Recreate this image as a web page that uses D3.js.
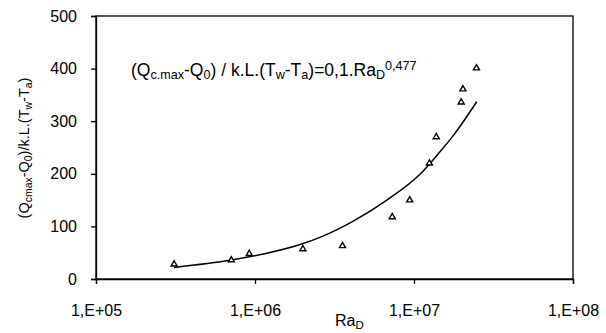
<!DOCTYPE html>
<html>
<head>
<meta charset="utf-8">
<script src="https://cdn.jsdelivr.net/npm/d3@7"></script>
<style>
  body { margin: 0; background: #fff; }
  svg { font-family: "Liberation Sans", Arial, sans-serif; }
</style>
</head>
<body>
<svg id="chart" width="606" height="333"></svg>
<script>
// measured points
const raValues = [3.1e5, 7.1e5, 9.2e5, 2.0e6, 3.55e6, 7.3e6, 9.4e6, 1.25e7, 1.38e7, 1.98e7, 2.03e7, 2.47e7];
const qValues = [28, 36, 48, 57, 63, 118, 150, 220, 270, 336, 361, 401];

// fitted curve
const curveRa = [3.1e5, 7.1e5, 1.15e6, 1.9e6, 2.7e6, 4.15e6, 6.75e6, 1.09e7, 1.43e7, 1.77e7, 2.48e7];
const curveQ = [22, 36, 48, 65, 82, 110, 150, 199, 239, 273, 337];

const xTicks = [1e5, 1e6, 1e7, 1e8];
const xTickLabels = ['1,E+05', '1,E+06', '1,E+07', '1,E+08'];
const yTicks = [0, 100, 200, 300, 400, 500];

const svg = d3.select('#chart');
const m = { left: 96, right: 573, top: 16, bottom: 279 };
const fs = 16;

const x = d3.scaleLog().domain([1e5, 1e8]).range([m.left, m.right]);
const y = d3.scaleLinear().domain([0, 500]).range([m.bottom, m.top]);

// frame
svg.append('rect')
  .attr('x', m.left).attr('y', m.top)
  .attr('width', m.right - m.left).attr('height', m.bottom - m.top)
  .attr('fill', 'none').attr('stroke', '#000').attr('stroke-width', 1.3);

const xAxis = svg.append('g')
  .attr('transform', `translate(0,${m.bottom})`)
  .call(d3.axisBottom(x).tickValues(xTicks).tickFormat((d, i) => xTickLabels[i]).tickSize(5).tickPadding(21));
xAxis.select('.domain').attr('stroke-width', 1.3);
xAxis.selectAll('line').attr('stroke-width', 1.3);
xAxis.selectAll('text').attr('font-size', fs).attr('font-family', '"Liberation Sans", Arial, sans-serif').attr('fill', '#000');

const yAxis = svg.append('g')
  .attr('transform', `translate(${m.left},0)`)
  .call(d3.axisLeft(y).tickValues(yTicks).tickSize(5).tickPadding(14));
yAxis.select('.domain').attr('stroke-width', 1.3);
yAxis.selectAll('line').attr('stroke-width', 1.3);
yAxis.selectAll('text').attr('font-size', fs).attr('font-family', '"Liberation Sans", Arial, sans-serif').attr('fill', '#000');

// fitted curve
const line = d3.line()
  .x((d, i) => x(curveRa[i]))
  .y((d) => y(d))
  .curve(d3.curveMonotoneX);
svg.append('path')
  .attr('d', line(curveQ))
  .attr('fill', 'none').attr('stroke', '#000').attr('stroke-width', 1.5);

// markers
const tri = d3.symbol(d3.symbolTriangle).size(16);
svg.selectAll('.pt').data(raValues).enter().append('path')
  .attr('class', 'pt')
  .attr('d', tri)
  .attr('transform', (d, i) => `translate(${x(d)},${y(qValues[i])})`)
  .attr('fill', '#fff').attr('stroke', '#000').attr('stroke-width', 1.4);

// helper for text with sub/superscripts
function richText(sel, parts, size) {
  parts.forEach(([txt, kind]) => {
    const t = sel.append('tspan').text(txt);
    if (kind === 'sub') t.attr('font-size', size * 0.72).attr('baseline-shift', '-25%');
    else if (kind === 'sup') t.attr('font-size', size * 0.72).attr('baseline-shift', '45%');
  });
}

// equation
const eq = svg.append('text').attr('x', 131).attr('y', 76).attr('font-size', 17.5).attr('fill', '#000');
richText(eq, [
  ['(Q'], ['c.max', 'sub'], ['-Q'], ['0', 'sub'], [') / k.L.(T'], ['w', 'sub'], ['-T'], ['a', 'sub'],
  [')=0,1.Ra'], ['D', 'sub'], ['0,477', 'sup']
], 17.5);

// x title
const xt = svg.append('text').attr('x', 335).attr('y', 326).attr('font-size', fs).attr('fill', '#000');
richText(xt, [['Ra'], ['D', 'sub']], fs);

// y title
const yt = svg.append('text')
  .attr('transform', 'translate(29,148) rotate(-90)')
  .attr('text-anchor', 'middle').attr('font-size', 14.5).attr('fill', '#000');
richText(yt, [
  ['(Q'], ['cmax', 'sub'], ['-Q'], ['0', 'sub'], [')/k.L.(T'], ['w', 'sub'], ['-T'], ['a', 'sub'], [')']
], 14.5);
</script>
</body>
</html>
